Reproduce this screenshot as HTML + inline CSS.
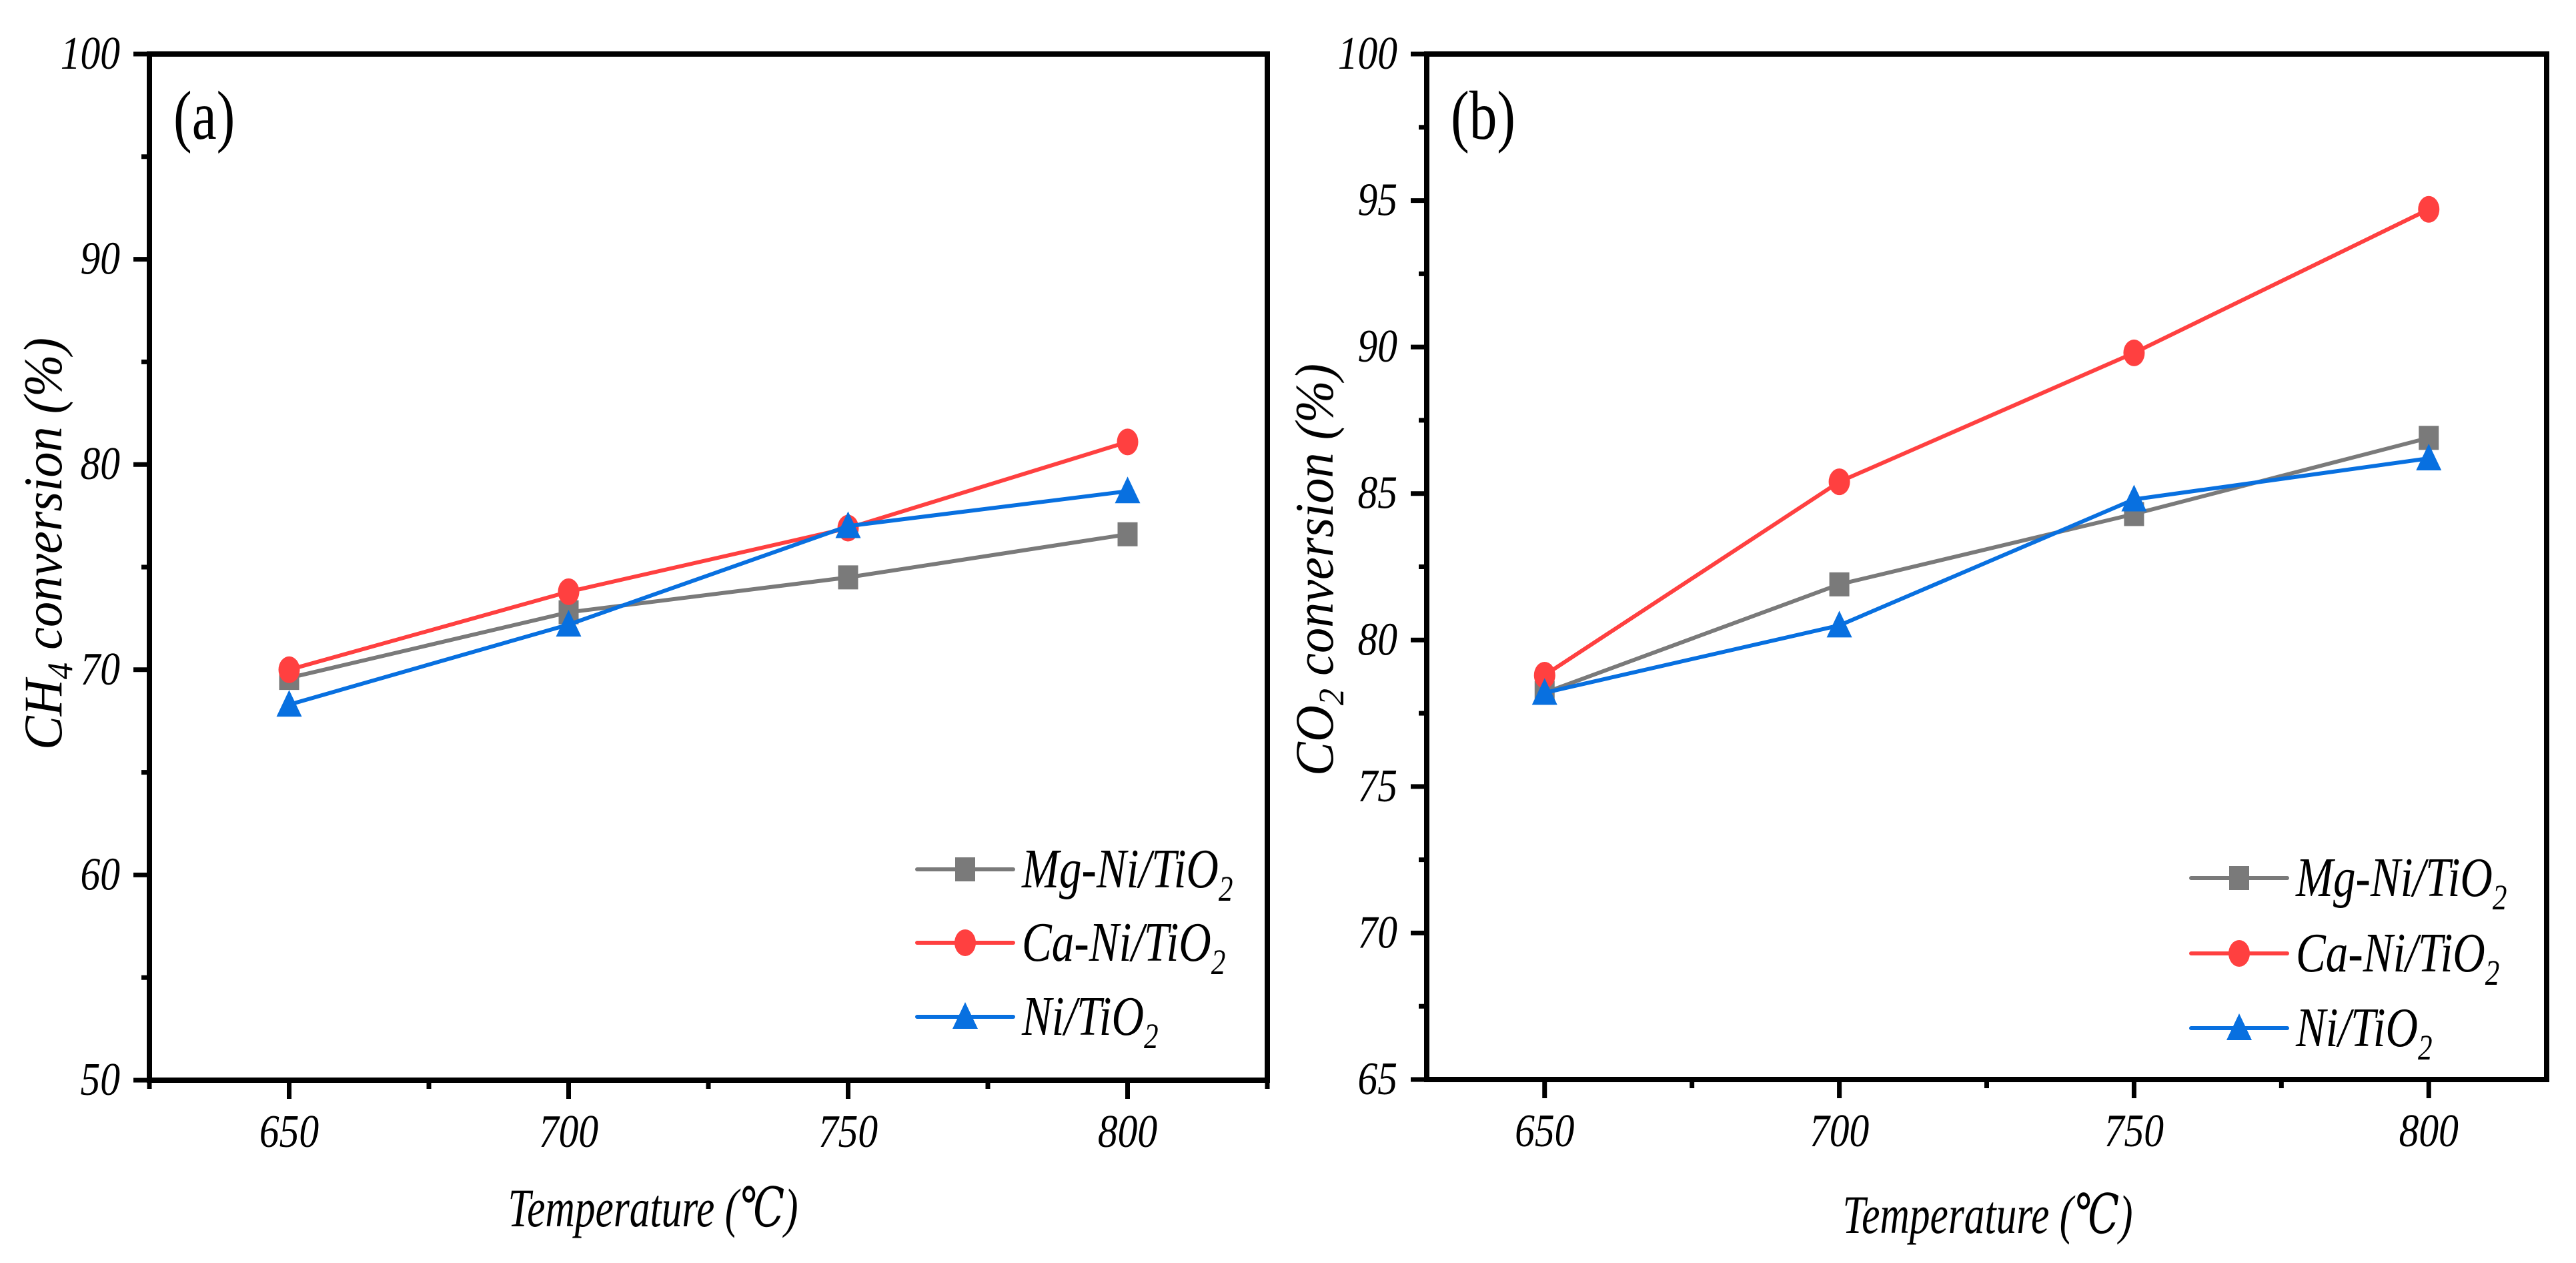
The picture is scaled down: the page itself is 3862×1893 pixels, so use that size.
<!DOCTYPE html>
<html><head><meta charset="utf-8"><style>
html,body{margin:0;padding:0;background:#fff;}
svg{display:block;}
svg text{font-family:"Liberation Serif","DejaVu Serif",serif !important;font-style:italic;fill:#000;}
svg text.upright{font-style:normal;}
</style></head><body>
<svg id="chart" width="3862" height="1893" viewBox="0 0 3862 1893" xmlns="http://www.w3.org/2000/svg" font-family="Liberation Serif, serif">
<rect width="3862" height="1893" fill="#fff"/>
</svg>
<script>
const temps = [650, 700, 750, 800];
const seriesNames = ["Mg-Ni/TiO", "Ca-Ni/TiO", "Ni/TiO"];
const ch4Mg = [69.6, 72.8, 74.5, 76.6];
const ch4Ca = [70.0, 73.8, 76.9, 81.1];
const ch4Ni = [68.3, 72.2, 77.0, 78.7];
const co2Mg = [78.2, 81.9, 84.3, 86.9];
const co2Ca = [78.8, 85.4, 89.8, 94.7];
const co2Ni = [78.2, 80.5, 84.8, 86.2];
const xTicks = [650, 700, 750, 800];
const yTicksA = [50, 60, 70, 80, 90, 100];
const yTicksB = [65, 70, 75, 80, 85, 90, 95, 100];

const NS = "http://www.w3.org/2000/svg";
const svg = document.getElementById("chart");
const colors = ["#7a7a7a", "#ff4040", "#0870e0"];
const shapes = ["square", "circle", "triangle"];
const FF = '"Liberation Serif", "DejaVu Serif", serif';

function mk(tag, attrs, parent) {
  const e = document.createElementNS(NS, tag);
  for (const k in attrs) e.setAttribute(k, attrs[k]);
  if (tag === "text") e.setAttribute("font-family", FF);
  (parent || svg).appendChild(e);
  return e;
}

function marker(g, shape, cx, cy, color) {
  let m;
  if (shape === "square") m = mk("rect", {x: cx - 15, y: cy - 18, width: 30, height: 36, fill: color}, g);
  else if (shape === "circle") m = mk("ellipse", {cx: cx, cy: cy, rx: 16, ry: 20, fill: color}, g);
  else m = mk("polygon", {points: `${cx},${cy - 22} ${cx + 19},${cy + 18} ${cx - 19},${cy + 18}`, fill: color}, g);
  return m;
}

function panel(cfg) {
  const g = mk("g", {});
  
  
  const X = v => cfg.L + (v - cfg.xmin) / (cfg.xmax - cfg.xmin) * (cfg.R - cfg.L);
  const Y = v => cfg.B - (v - cfg.ymin) / (cfg.ymax - cfg.ymin) * (cfg.B - cfg.T);

  cfg.data.forEach((arr, si) => {
    const sg = mk("g", {}, g);
    
    
    const pts = arr.map((v, i) => X(temps[i]) + "," + Y(v)).join(" ");
    const pl = mk("polyline", {points: pts, fill: "none", stroke: colors[si], "stroke-width": 6, "stroke-linejoin": "round"}, sg);
    
    
    arr.forEach((v, i) => {
      const m = marker(sg, shapes[si], X(temps[i]), Y(v), colors[si]);
      
      
    });
  });

  const fr = mk("rect", {x: cfg.L, y: cfg.T, width: cfg.R - cfg.L, height: cfg.B - cfg.T, fill: "none", stroke: "#000", "stroke-width": 8}, g);
  
  

  cfg.yTicks.forEach(v => {
    const y = Y(v);
    const t = mk("line", {x1: cfg.L - 24, x2: cfg.L, y1: y, y2: y, stroke: "#000", "stroke-width": 7}, g);
    
    
    const tx = mk("text", {transform: `translate(${cfg.L - 44},${y + 22}) scale(0.85,1)`, "text-anchor": "end", "font-size": 70, "font-style": "italic"}, g);
    tx.textContent = v;
    
    
  });
  for (let i = 0; i < cfg.yTicks.length - 1; i++) {
    const y = Y((cfg.yTicks[i] + cfg.yTicks[i + 1]) / 2);
    const t = mk("line", {x1: cfg.L - 12, x2: cfg.L, y1: y, y2: y, stroke: "#000", "stroke-width": 7}, g);
    
    
  }
  xTicks.forEach(v => {
    const x = X(v);
    const t = mk("line", {x1: x, x2: x, y1: cfg.B, y2: cfg.B + 28, stroke: "#000", "stroke-width": 7}, g);
    
    
    const tx = mk("text", {transform: `translate(${x},${cfg.B + 100}) scale(0.85,1)`, "text-anchor": "middle", "font-size": 70, "font-style": "italic"}, g);
    tx.textContent = v;
    
    
  });
  cfg.xMinor.forEach(v => {
    const x = X(v);
    const t = mk("line", {x1: x, x2: x, y1: cfg.B, y2: cfg.B + 13, stroke: "#000", "stroke-width": 7}, g);
    
    
  });

  const pl = mk("text", {transform: `translate(${cfg.L + 36},208) scale(0.8,1)`, "font-size": 104, "class": "upright", "font-style": "normal"}, g);
  pl.textContent = cfg.letter;
  
  

  const xt = mk("text", {x: cfg.xtX, y: cfg.xtY, "text-anchor": "middle", "font-size": 82, "font-style": "italic", textLength: 435, lengthAdjust: "spacingAndGlyphs"}, g);
  xt.textContent = "Temperature (\u2103)";
  
  

  const yt = mk("text", {transform: `translate(${cfg.ytX},${cfg.ytY}) rotate(-90)`, "text-anchor": "middle", "font-size": 82, "font-style": "italic", textLength: 618, lengthAdjust: "spacingAndGlyphs"}, g);
  yt.innerHTML = cfg.ytitle;
  
  

  const lg = mk("g", {}, g);
  
  
  seriesNames.forEach((n, si) => {
    const y = cfg.legY[si];
    const eg = mk("g", {}, lg);
    
    
    mk("line", {x1: cfg.legX, x2: cfg.legX + 144, y1: y, y2: y, stroke: colors[si], "stroke-width": 6, "stroke-linecap": "round"}, eg);
    marker(eg, shapes[si], cfg.legX + 72, y, colors[si]);
    const t = mk("text", {transform: `translate(${cfg.legX + 157},${y + 27}) scale(0.8,1)`, "font-size": 84, "font-style": "italic"}, eg);
    t.innerHTML = n + '<tspan dy="20" font-size="54">2</tspan>';
  });
}

panel({name: "panel-a-ch4", L: 224, R: 1900, T: 81, B: 1619, xmin: 625, xmax: 825, ymin: 50, ymax: 100,
  data: [ch4Mg, ch4Ca, ch4Ni], yTicks: yTicksA, xMinor: [625, 675, 725, 775, 825], letter: "(a)",
  xtX: 979, xtY: 1838, ytX: 92, ytY: 815,
  ytitle: 'CH<tspan dy="16" font-size="54">4</tspan><tspan dy="-16"> conversion (%)</tspan>',
  legX: 1375, legY: [1303, 1413, 1524]});
panel({name: "panel-b-co2", L: 2139, R: 3818, T: 81, B: 1618, xmin: 630, xmax: 820, ymin: 65, ymax: 100,
  data: [co2Mg, co2Ca, co2Ni], yTicks: yTicksB, xMinor: [675, 725, 775], letter: "(b)",
  xtX: 2980, xtY: 1848, ytX: 1998, ytY: 854,
  ytitle: 'CO<tspan dy="16" font-size="54">2</tspan><tspan dy="-16"> conversion (%)</tspan>',
  legX: 3285, legY: [1316, 1429, 1541]});
</script>
</body></html>
